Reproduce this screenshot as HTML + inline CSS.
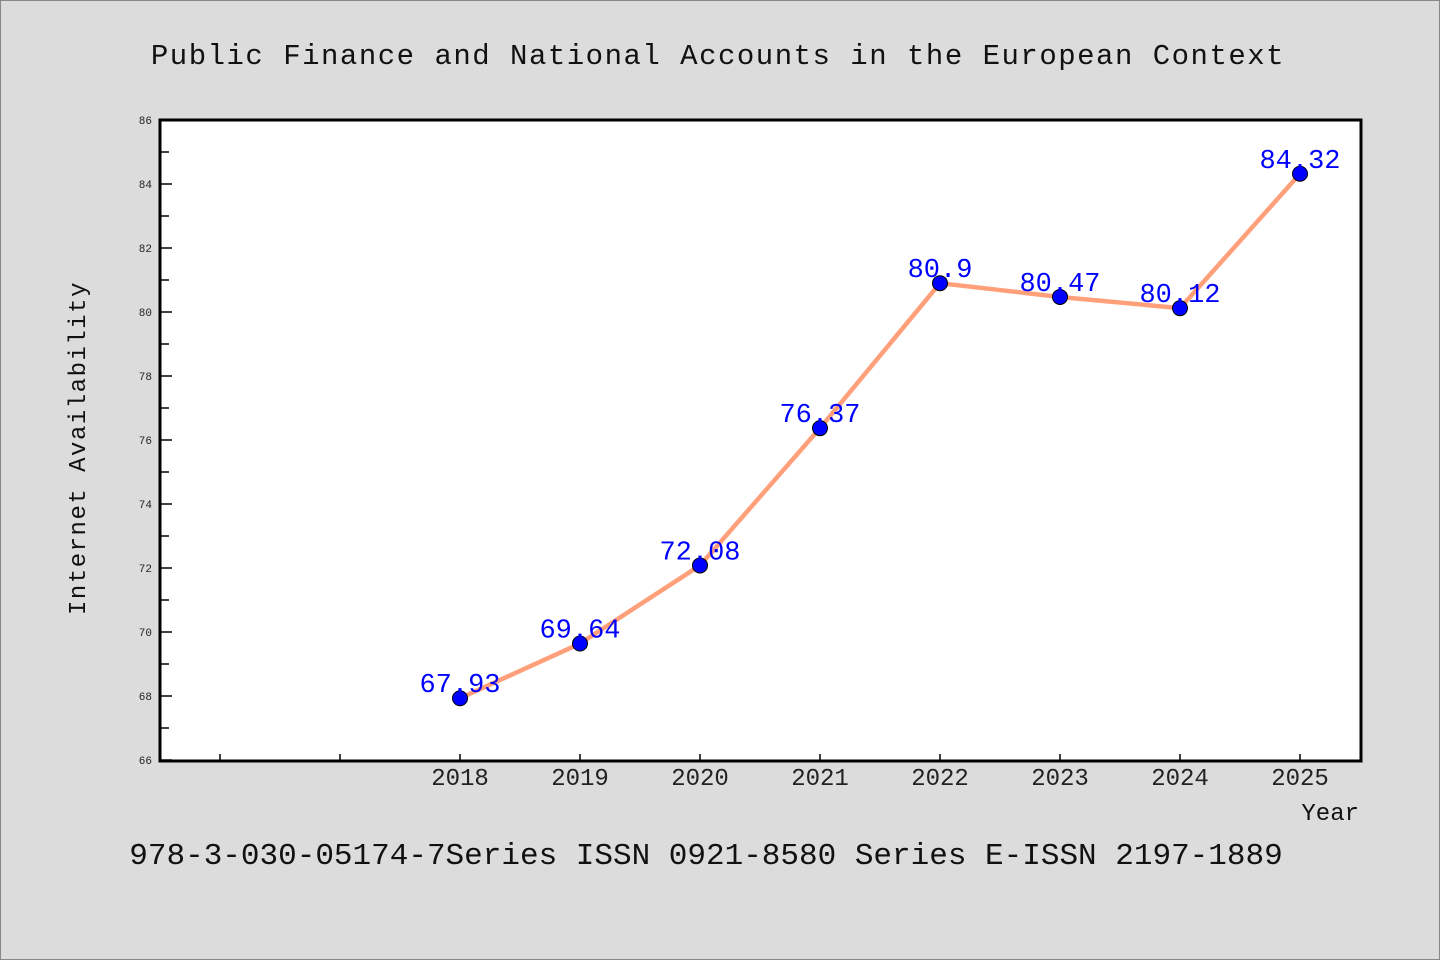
<!DOCTYPE html>
<html><head><meta charset="utf-8"><style>
body{margin:0;background:#dcdcdc;}
svg{display:block;font-family:"WenQuanYi Zen Hei","Liberation Mono",monospace;}
</style></head><body>
<svg width="1440" height="960">
<rect x="0.5" y="0.5" width="1439" height="959" fill="#dcdcdc" stroke="#888"/>
<text x="718" y="64" font-size="29" text-anchor="middle" fill="#111" letter-spacing="1.5">Public Finance and National Accounts in the European Context</text>
<rect x="160" y="120" width="1201" height="641" fill="#fff"/>
<g id="yaxis"></g>
<g id="xaxis"></g>
<g id="series"></g>
<rect x="160" y="120" width="1201" height="641" fill="none" stroke="#000" stroke-width="3"/>
<text x="85" y="448" font-size="24" text-anchor="middle" fill="#111" letter-spacing="1.5" transform="rotate(-90 85 448)">Internet Availability</text>
<text x="1359" y="820" font-size="24" text-anchor="end" fill="#111">Year</text>
<text x="706" y="864" font-size="31" text-anchor="middle" fill="#111">978-3-030-05174-7Series ISSN 0921-8580 Series E-ISSN 2197-1889</text>
</svg>
<script>
const categories=["","","2018","2019","2020","2021","2022","2023","2024","2025"];
const values=[null,null,67.93,69.64,72.08,76.37,80.9,80.47,80.12,84.32];
const labels=["","","67.93","69.64","72.08","76.37","80.9","80.47","80.12","84.32"];
const yTicks=[66,68,70,72,74,76,78,80,82,84,86];
const NS="http://www.w3.org/2000/svg";
const x0=160,x1=1360,yTop=120,yBot=760,yMin=66,yMax=86;
const band=(x1-x0)/categories.length;
const xs=i=>x0+band*(i+0.5);
const ys=v=>yBot-(v-yMin)/(yMax-yMin)*(yBot-yTop);
function mk(t,a){const e=document.createElementNS(NS,t);for(const k in a)e.setAttribute(k,a[k]);return e;}
const ya=document.getElementById('yaxis');
yTicks.forEach((v,i)=>{
  const y=ys(v);
  const t=mk('line',{x1:160,x2:172,y1:y,y2:y,stroke:'#000','stroke-width':1.5});
  
  
  ya.appendChild(t);
  const l=mk('text',{x:152,y:y+4,'font-size':11,'text-anchor':'end',fill:'#222'});
  l.textContent=v;
  
  
  ya.appendChild(l);
  if(i<yTicks.length-1){
    const ym=ys(v+1);
    const m=mk('line',{x1:160,x2:169,y1:ym,y2:ym,stroke:'#000','stroke-width':1.5});
    
    
    ya.appendChild(m);
  }
});
const xa=document.getElementById('xaxis');
categories.forEach((c,i)=>{
  const x=xs(i);
  const t=mk('line',{x1:x,x2:x,y1:760,y2:754,stroke:'#000','stroke-width':1.5});
  
  
  xa.appendChild(t);
  if(c){
    const l=mk('text',{x:x,y:785,'font-size':24,'text-anchor':'middle',fill:'#222'});
    l.textContent=c;
    
    
    xa.appendChild(l);
  }
});
const sg=document.getElementById('series');
const pts=[];values.forEach((v,i)=>{if(v!=null)pts.push([xs(i),ys(v),i]);});
const line=mk('polyline',{points:pts.map(p=>p[0]+','+p[1]).join(' '),fill:'none',stroke:'#ffa07a','stroke-width':4.5,'stroke-linejoin':'round'});


sg.appendChild(line);
pts.forEach(p=>{
  const c=mk('circle',{cx:p[0],cy:p[1],r:7.5,fill:'#0000ff',stroke:'#000','stroke-width':1});
  
  
  sg.appendChild(c);
  const t=mk('text',{x:p[0],y:p[1]-6,'font-size':27,'text-anchor':'middle',fill:'#0000ff'});
  t.textContent=labels[p[2]];
  
  
  sg.appendChild(t);
});
</script>
</body></html>
